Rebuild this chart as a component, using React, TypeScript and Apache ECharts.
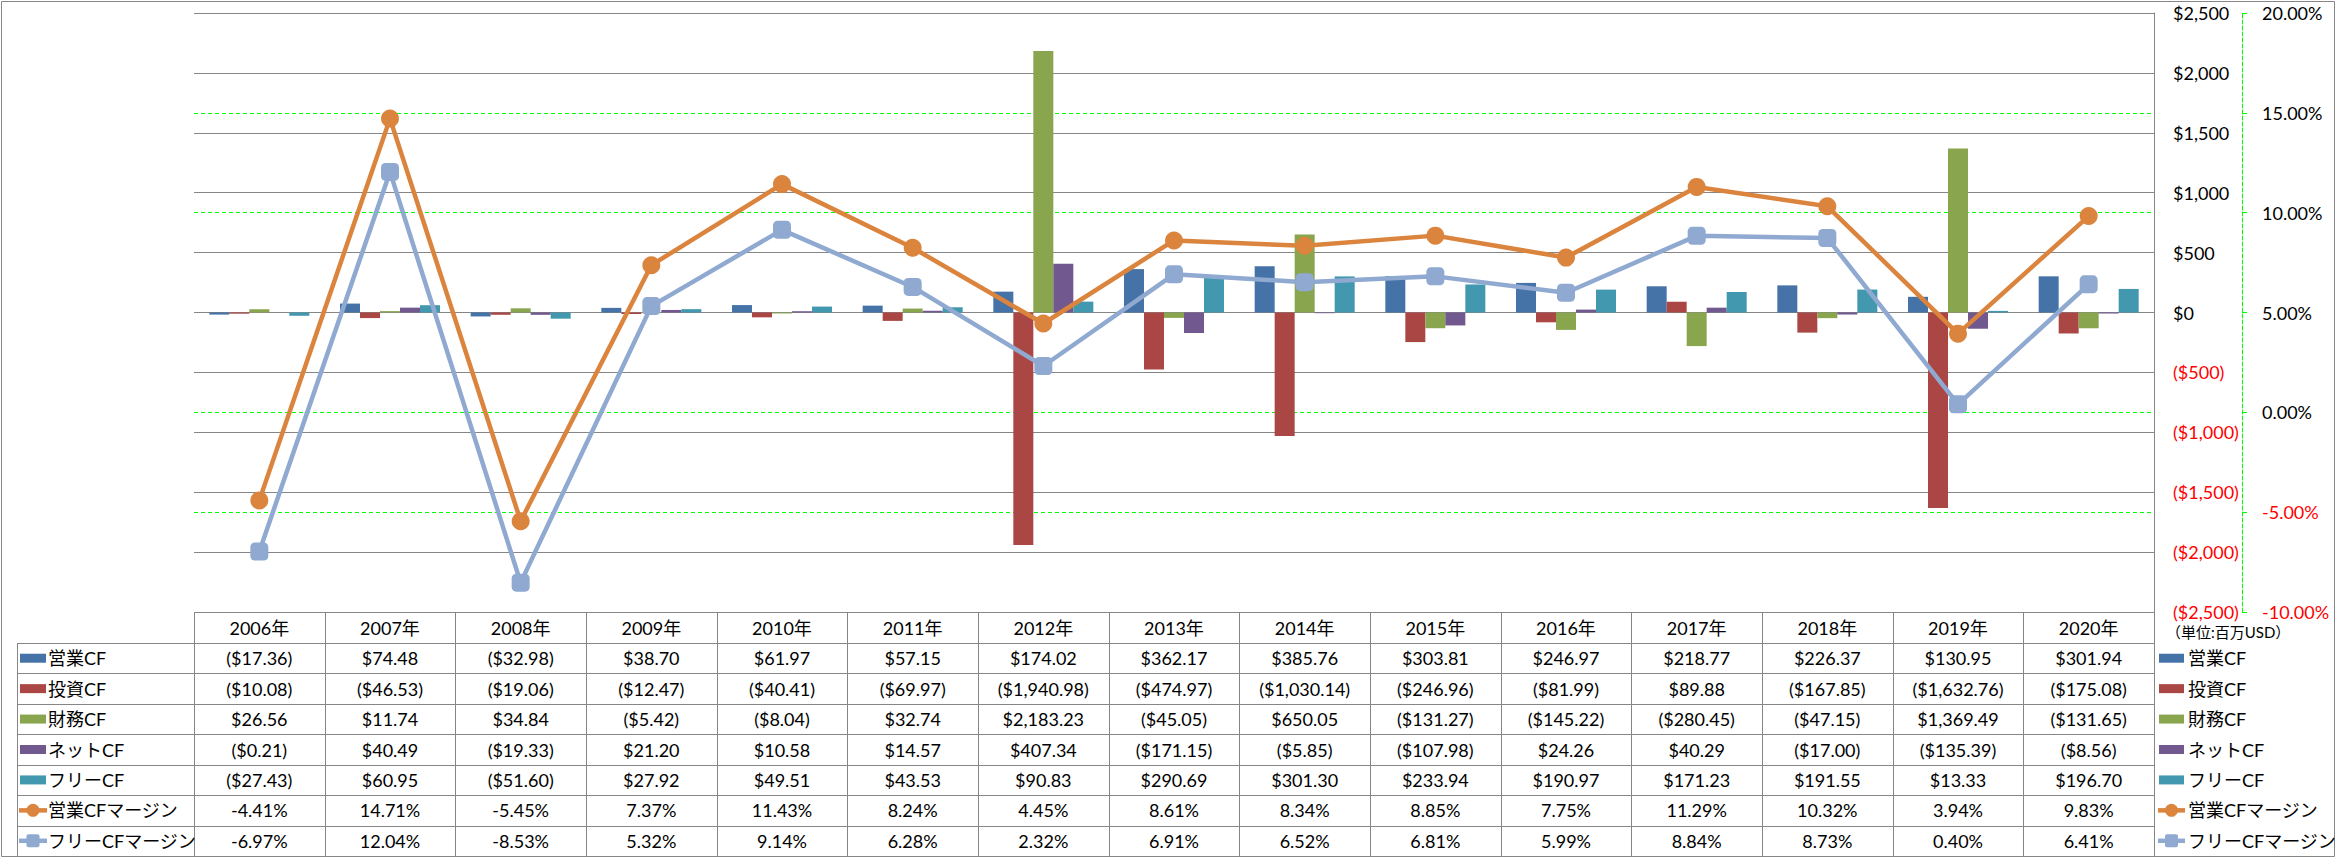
import React, { useEffect, useRef } from 'react';
import * as echarts from 'echarts';

const years = ['2006年', '2007年', '2008年', '2009年', '2010年', '2011年', '2012年', '2013年', '2014年', '2015年', '2016年', '2017年', '2018年', '2019年', '2020年'];
const opCF = [-17.36, 74.48, -32.98, 38.7, 61.97, 57.15, 174.02, 362.17, 385.76, 303.81, 246.97, 218.77, 226.37, 130.95, 301.94];
const invCF = [-10.08, -46.53, -19.06, -12.47, -40.41, -69.97, -1940.98, -474.97, -1030.14, -246.96, -81.99, 89.88, -167.85, -1632.76, -175.08];
const finCF = [26.56, 11.74, 34.84, -5.42, -8.04, 32.74, 2183.23, -45.05, 650.05, -131.27, -145.22, -280.45, -47.15, 1369.49, -131.65];
const netCF = [-0.21, 40.49, -19.33, 21.2, 10.58, 14.57, 407.34, -171.15, -5.85, -107.98, 24.26, 40.29, -17.0, -135.39, -8.56];
const freeCF = [-27.43, 60.95, -51.6, 27.92, 49.51, 43.53, 90.83, 290.69, 301.3, 233.94, 190.97, 171.23, 191.55, 13.33, 196.7];
const opMargin = [-4.41, 14.71, -5.45, 7.37, 11.43, 8.24, 4.45, 8.61, 8.34, 8.85, 7.75, 11.29, 10.32, 3.94, 9.83];
const freeMargin = [-6.97, 12.04, -8.53, 5.32, 9.14, 6.28, 2.32, 6.91, 6.52, 6.81, 5.99, 8.84, 8.73, 0.4, 6.41];

const barNames = ['営業CF', '投資CF', '財務CF', 'ネットCF', 'フリーCF'];
const lineNames = ['営業CFマージン', 'フリーCFマージン'];
const barColors = ['#4572A7', '#AA4643', '#89A54E', '#71588F', '#4198AF'];
const lineColors = ['#DB843D', '#8FA9D1'];
const unitLabel = '（単位:百万USD）';

const W = 2336;
const H = 858;
const FONT = 'Lato, "Noto Sans CJK JP", sans-serif';
const GRID_L = 194;
const GRID_R = 2154;
const GRID_T = 13;
const GRID_B = 612;
const GRAY = '#868686';

function fmtMoney(v: number, dec: number): string {
  const s = Math.abs(v).toLocaleString('en-US', { minimumFractionDigits: dec, maximumFractionDigits: dec });
  return v < 0 ? `($${s})` : `$${s}`;
}

function buildGraphics() {
  const els: any[] = [];
  const colW = (GRID_R - GRID_L) / years.length;
  const headTop = GRID_B;
  const headBot = 643;
  const rowH = (856 - headBot) / 7;
  const tableLeft = 17;
  const line = (x1: number, y1: number, x2: number, y2: number) => ({
    type: 'line', silent: true, z: 10,
    shape: { x1, y1, x2, y2 },
    style: { stroke: GRAY, lineWidth: 1 },
  });
  const text = (t: string, x: number, y: number, align: string, size = 18, fill = '#000') => ({
    type: 'text', silent: true, z: 11,
    style: {
      text: t, x, y, fill, font: `${size}px ${FONT}`,
      textAlign: align, textVerticalAlign: 'middle', align, verticalAlign: 'middle',
    },
  });
  // outer border
  els.push({ type: 'rect', silent: true, z: 10, shape: { x: 1.5, y: 1.5, width: W - 3, height: H - 3 }, style: { fill: 'none', stroke: GRAY, lineWidth: 1 } });
  // header
  els.push(line(GRID_L, headTop + 0.5, GRID_R, headTop + 0.5));
  for (let k = 0; k <= 7; k++) {
    const y = Math.round(headBot + k * rowH) + 0.5;
    els.push(line(tableLeft, y, GRID_R, y));
  }
  els.push(line(tableLeft + 0.5, headBot, tableLeft + 0.5, 857));
  for (let j = 0; j <= years.length; j++) {
    const x = Math.round(GRID_L + j * colW) + 0.5;
    els.push(line(x, headTop, x, 857));
  }
  years.forEach((yr, j) => {
    els.push(text(yr, GRID_L + (j + 0.5) * colW, (headTop + headBot) / 2, 'center'));
  });
  const barRows = [opCF, invCF, finCF, netCF, freeCF];
  const lineRows = [opMargin, freeMargin];
  const rowCenter = (k: number) => headBot + (k + 0.5) * rowH;
  barRows.forEach((arr, k) => {
    arr.forEach((v, j) => {
      els.push(text(fmtMoney(v, 2), GRID_L + (j + 0.5) * colW, rowCenter(k), 'center'));
    });
  });
  lineRows.forEach((arr, k) => {
    arr.forEach((v, j) => {
      els.push(text(`${v.toFixed(2)}%`, GRID_L + (j + 0.5) * colW, rowCenter(k + 5), 'center'));
    });
  });
  // legend keys: inside table and on right
  const addKeys = (x0: number, swW: number, textX: number) => {
    barNames.forEach((n, k) => {
      const cy = rowCenter(k);
      els.push({ type: 'rect', silent: true, z: 11, shape: { x: x0, y: cy - 4.5, width: swW, height: 9 }, style: { fill: barColors[k] } });
      els.push(text(n, textX, cy, 'left'));
    });
    lineNames.forEach((n, k) => {
      const cy = rowCenter(k + 5);
      els.push({ type: 'line', silent: true, z: 11, shape: { x1: x0 - 1, y1: cy, x2: x0 + swW + 1, y2: cy }, style: { stroke: lineColors[k], lineWidth: 4.5 } });
      if (k === 0) {
        els.push({ type: 'circle', silent: true, z: 12, shape: { cx: x0 + swW / 2, cy, r: 6.5 }, style: { fill: lineColors[k] } });
      } else {
        els.push({ type: 'rect', silent: true, z: 12, shape: { x: x0 + swW / 2 - 6.5, y: cy - 6.5, width: 13, height: 13, r: 2 }, style: { fill: lineColors[k] } });
      }
      els.push(text(n, textX, cy, 'left'));
    });
  };
  addKeys(20, 26, 48);
  addKeys(2159, 25, 2188);
  els.push(text(unitLabel, 2166, 632, 'left', 15));
  return els;
}

export default function App() {
  const ref = useRef<HTMLDivElement>(null);
  useEffect(() => {
    if (!ref.current) return;
    const chart = echarts.init(ref.current, undefined, { renderer: 'svg' });
    const barSeries = [opCF, invCF, finCF, netCF, freeCF].map((d, i) => ({
      name: barNames[i],
      type: 'bar',
      yAxisIndex: 0,
      data: d,
      barWidth: 20,
      barGap: '0%',
      itemStyle: { color: barColors[i] },
      z: 2,
    }));
    const lineSeries = [opMargin, freeMargin].map((d, i) => ({
      name: lineNames[i],
      type: 'line',
      yAxisIndex: 1,
      data: d,
      symbol: i === 0 ? 'circle' : 'roundRect',
      symbolSize: 18,
      lineStyle: { color: lineColors[i], width: 4.5 },
      itemStyle: { color: lineColors[i] },
      z: 4,
    }));
    chart.setOption({
      animation: false,
      backgroundColor: '#ffffff',
      textStyle: { fontFamily: FONT },
      grid: { left: GRID_L, right: W - GRID_R, top: GRID_T, bottom: H - GRID_B, containLabel: false },
      xAxis: {
        type: 'category',
        data: years,
        axisLine: { show: false },
        axisTick: { show: false },
        axisLabel: { show: false },
        splitLine: { show: false },
      },
      yAxis: [
        {
          type: 'value',
          position: 'right',
          min: -2500,
          max: 2500,
          interval: 500,
          z: 1,
          axisLine: { show: true, lineStyle: { color: GRAY, width: 1 } },
          axisTick: { show: false },
          splitLine: { show: true, lineStyle: { color: GRAY, width: 1 } },
          axisLabel: {
            margin: 19,
            fontSize: 18,
            fontFamily: FONT,
            align: 'left',
            formatter: (v: number) => fmtMoney(v, 0),
            color: (v: any) => (Number(v) < 0 ? '#FF0000' : '#000000'),
          },
        },
        {
          type: 'value',
          position: 'right',
          offset: 88,
          min: -10,
          max: 20,
          interval: 5,
          z: 0,
          axisLine: { show: true, lineStyle: { color: '#00FF00', width: 1, type: 'dashed' } },
          axisTick: { show: true, length: 5, inside: false, lineStyle: { color: '#00FF00', width: 1 } },
          splitLine: { show: true, lineStyle: { color: '#00FF00', width: 1, type: [4, 3] } },
          axisLabel: {
            margin: 20,
            fontSize: 18,
            fontFamily: FONT,
            align: 'left',
            formatter: (v: number) => `${v.toFixed(2)}%`,
            color: (v: any) => (Number(v) < 0 ? '#FF0000' : '#000000'),
          },
        },
      ],
      series: [...barSeries, ...lineSeries],
      graphic: { elements: buildGraphics() },
    });
    return () => chart.dispose();
  }, []);
  return (
    <div
      ref={ref}
      style={{ position: 'fixed', left: 0, top: 0, width: W, height: H, background: '#fff' }}
    />
  );
}
